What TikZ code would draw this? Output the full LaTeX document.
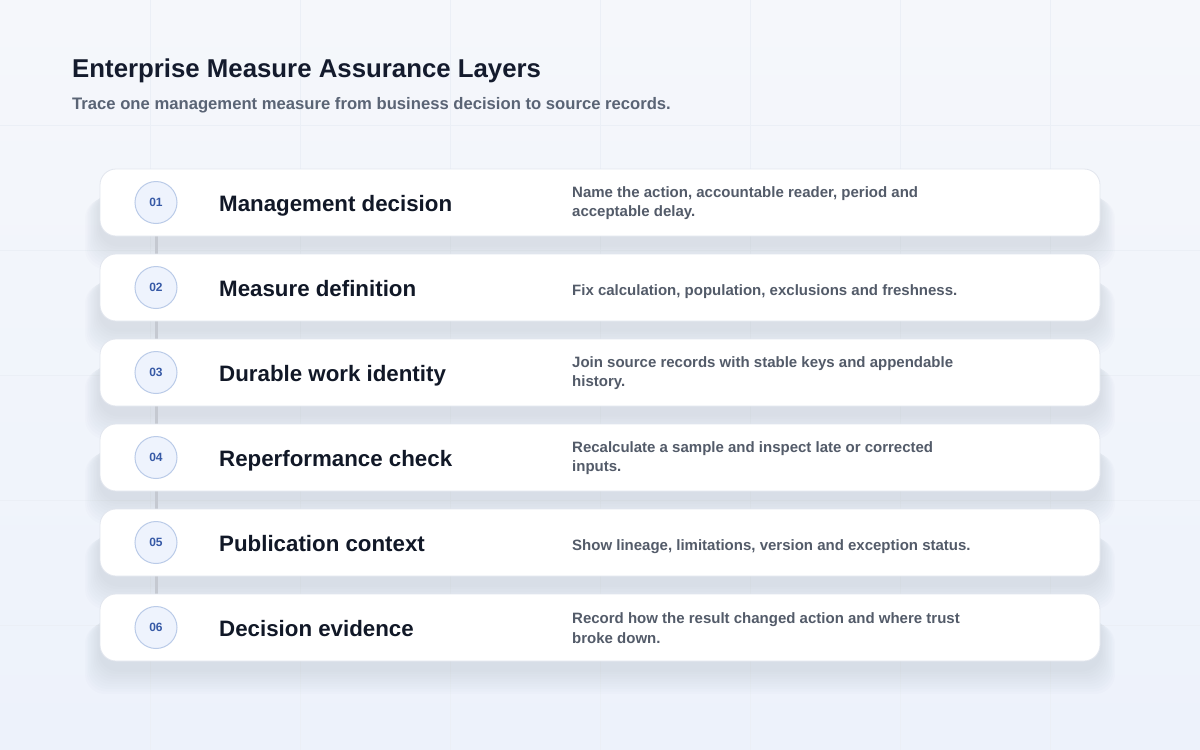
\documentclass[tikz,border=0pt]{standalone}
\usepackage{fontspec}
\setmainfont{Liberation Sans}
\usepackage{tikz}
\usetikzlibrary{positioning}
\definecolor{mlbgA}{RGB}{245,247,251}
\definecolor{mlbgB}{RGB}{237,242,251}
\definecolor{mlgrid}{RGB}{235,239,246}
\definecolor{mlhead}{RGB}{20,27,45}
\definecolor{mlsub}{RGB}{90,100,117}
\definecolor{mlink}{RGB}{17,24,39}
\definecolor{mlnote}{RGB}{83,91,105}
\definecolor{mlborder}{RGB}{226,230,238}
\definecolor{mlshadow}{RGB}{60,70,100}
\definecolor{mlring}{RGB}{186,203,232}
\definecolor{mlringfill}{RGB}{238,243,253}
\definecolor{mlnum}{RGB}{54,89,166}
\definecolor{mllink}{RGB}{197,201,209}
\tikzstyle{layercard} = [rectangle, rounded corners=16pt, minimum width=1000pt, minimum height=67pt, inner sep=0pt, draw=mlborder, fill=white, line width=0.8pt]
\tikzstyle{stepnum} = [circle, minimum size=42pt, inner sep=0pt, draw=mlring, fill=mlringfill, line width=1pt, text=mlnum, font=\bfseries\fontsize{12}{12}\selectfont]
\tikzstyle{layertitle} = [anchor=base west, inner sep=0pt, text=mlink, font=\bfseries\fontsize{22.3}{26}\selectfont]
\tikzstyle{layernote} = [anchor=west, inner sep=0pt, align=left, text=mlnote, font=\bfseries\fontsize{15}{19.5}\selectfont]
\tikzstyle{link} = [line width=3pt, color=mllink]
\tikzstyle{softshadow} = [fill=mlshadow, opacity=0.012, rounded corners=20pt]

\begin{document}
\begin{tikzpicture}[x=1pt,y=-1pt]
    % Background
    \shade[top color=mlbgA, bottom color=mlbgB] (0,0) rectangle (1200,750);
    \useasboundingbox (0,0) rectangle (1200,750);
    \foreach \gx in {150,300,...,1050} \draw[mlgrid, line width=0.8pt] (\gx,0) -- (\gx,750);
    \foreach \gy in {125,250,...,625} \draw[mlgrid, line width=0.8pt] (0,\gy) -- (1200,\gy);

    % Header
    \node[anchor=base west, inner sep=0pt, text=mlhead, font=\bfseries\fontsize{25.8}{30}\selectfont] (title) at (72,77) {Enterprise Measure Assurance Layers};
    \node[anchor=base west, inner sep=0pt, text=mlsub, font=\bfseries\fontsize{16.65}{20}\selectfont] (subtitle) at (72,109) {Trace one management measure from business decision to source records.};

    % Shadows
    \foreach \y in {202.5,287.5,...,627.5} {
        \foreach \k in {1,...,10}
            \fill[softshadow] (100-1.5*\k,\y-14+\k) rectangle (1100+1.5*\k,\y+41.5+2.5*\k);
    }

    % Step points and links
    \foreach \i/\y in {1/202.5,2/287.5,3/372.5,4/457.5,5/542.5,6/627.5}
        \coordinate (p\i) at (156,\y);
    \foreach \a/\b in {1/2,2/3,3/4,4/5,5/6}
        \draw[link] (p\a) -- (p\b);

    % Layers
    \foreach \i/\y/\dy/\lname/\lnote in {
        1/202.5/0.5/Management decision/{Name the action, accountable reader, period and\\acceptable delay.},
        2/287.5/4.5/Measure definition/{Fix calculation, population, exclusions and freshness.},
        3/372.5/0.5/Durable work identity/{Join source records with stable keys and appendable\\history.},
        4/457.5/0.5/Reperformance check/{Recalculate a sample and inspect late or corrected\\inputs.},
        5/542.5/4.5/Publication context/{Show lineage, limitations, version and exception status.},
        6/627.5/0.5/Decision evidence/{Record how the result changed action and where trust\\broke down.}} {
        \node[layercard] (card\i) at (600,\y) {};
        \node[stepnum] (num\i) at (p\i) {0\i};
        \node[layertitle] (name\i) at (219,\y+8.5) {\lname};
        \node[layernote] (note\i) at (572,\y+\dy) {\lnote};
    }
\end{tikzpicture}
\end{document}
